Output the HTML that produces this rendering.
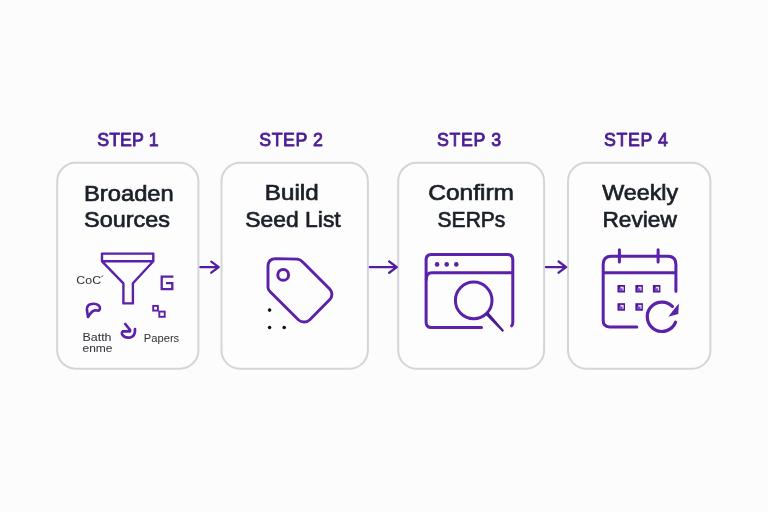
<!DOCTYPE html>
<html>
<head>
<meta charset="utf-8">
<title>Steps</title>
<style>
html,body{margin:0;padding:0;background:#fcfcfc;}
body{width:768px;height:512px;overflow:hidden;font-family:"Liberation Sans",sans-serif;}
svg{display:block;will-change:transform;}
.step{font-family:"Liberation Sans",sans-serif;font-weight:normal;font-size:17.8px;fill:#4c1d95;stroke:#4c1d95;stroke-width:0.85px;stroke-linejoin:round;}
.title{font-family:"Liberation Sans",sans-serif;font-size:22.5px;fill:#1b2029;stroke:#1b2029;stroke-width:0.7px;}
.small{font-family:"Liberation Sans",sans-serif;font-size:11.5px;fill:#2f2f35;}
.card{fill:#fdfdfd;stroke:#d4d5db;stroke-width:2;}
.ico{fill:none;stroke:#5b21a8;stroke-width:2.4;stroke-linecap:round;stroke-linejoin:round;}
.arrow{fill:none;stroke:#521e9e;stroke-width:2.3;stroke-linecap:round;stroke-linejoin:round;}
</style>
</head>
<body>
<svg width="768" height="512" viewBox="0 0 768 512">
<rect x="0" y="0" width="768" height="512" fill="#fcfcfc"/>

<!-- cards -->
<g id="cards">
<rect class="card" x="57.2" y="162.8" width="141.2" height="205.9" rx="18.5" ry="18.5"/>
<rect class="card" x="221.5" y="162.8" width="146.4" height="206" rx="18.5" ry="18.5"/>
<rect class="card" x="398.2" y="162.8" width="145.9" height="206" rx="18.5" ry="18.5"/>
<rect class="card" x="568" y="162.8" width="142.4" height="206" rx="18.5" ry="18.5"/>
</g>

<!-- step labels -->
<g id="steps">
<text class="step" x="97.2" y="146" textLength="61.4" lengthAdjust="spacing">STEP 1</text>
<text class="step" x="259.3" y="146" textLength="63.7" lengthAdjust="spacing">STEP 2</text>
<text class="step" x="437" y="146" textLength="64.1" lengthAdjust="spacing">STEP 3</text>
<text class="step" x="603.9" y="146" textLength="64.1" lengthAdjust="spacing">STEP 4</text>
</g>

<!-- titles -->
<g id="titles">
<text class="title" x="84" y="200.5" textLength="89.8" lengthAdjust="spacingAndGlyphs">Broaden</text>
<text class="title" x="84.1" y="227.1" textLength="86" lengthAdjust="spacingAndGlyphs">Sources</text>
<text class="title" x="264.8" y="200.4" textLength="53.8" lengthAdjust="spacingAndGlyphs">Build</text>
<text class="title" x="245.3" y="227.1" textLength="95.4" lengthAdjust="spacingAndGlyphs">Seed List</text>
<text class="title" x="428.3" y="200.4" textLength="85.6" lengthAdjust="spacingAndGlyphs">Confirm</text>
<text class="title" x="437.6" y="227.1" textLength="67.8" lengthAdjust="spacingAndGlyphs">SERPs</text>
<text class="title" x="602.2" y="200.4" textLength="76" lengthAdjust="spacingAndGlyphs">Weekly</text>
<text class="title" x="602.4" y="227.1" textLength="74.4" lengthAdjust="spacingAndGlyphs">Review</text>
</g>

<!-- arrows -->
<g id="arrows">
<path class="arrow" d="M200.4 267.2H218.4M211.3 261.7L218.7 267.2L211.3 272.7"/>
<path class="arrow" d="M369.8 267.1H396.6M389.2 261.5L396.8 267.1L389.2 272.7"/>
<path class="arrow" d="M545.9 267.1H565.8M558.6 261.5L566.1 267.1L558.6 272.7"/>
</g>

<g id="icon1">
<path class="ico" style="stroke-width:2.4;stroke-linejoin:round" d="M102 253.6H153.3V261.3L132.9 283.3V303.4H123.4V283.3L102 261.3ZM102 261.3H153.3"/>
<path class="ico" style="stroke-width:2.3;stroke-linejoin:miter;stroke-linecap:butt" d="M173.4 276.6H161.7V289.2H172.3V283.2H166"/>
<path class="ico" style="stroke-width:2.6" d="M88 317L86.9 309.7C86.9 306.5 88.2 304.8 90.5 304.2C93 303.5 96.5 303.8 98.7 305.4C100.3 306.8 100.4 309.3 98.9 310.6C97.5 310.9 96 310.3 94.6 310.4C92.4 310.8 90 313.8 88 317Z"/>
<path class="ico" style="stroke-width:2.7" d="M125.2 324L130 329.8V331.3H123C121.6 332 121.6 334 122.6 335.2C124 337 126 337.7 128 337.7C131.5 337.7 134 336 134.7 333C135 331.8 135 330.5 135 329.2"/>
<rect class="ico" style="stroke-width:1.9;stroke-linejoin:miter" x="153.2" y="305.9" width="4.7" height="4.7"/>
<rect class="ico" style="stroke-width:1.9;stroke-linejoin:miter" x="159.3" y="311.6" width="5.4" height="5.2"/>
<text class="small" x="76.3" y="284.2" textLength="24.8" lengthAdjust="spacingAndGlyphs">CoC</text>
<path d="M101.4 276.8l1.8-1.3" stroke="#333338" stroke-width="0.9" fill="none"/>
<text class="small" x="82.5" y="340.8" textLength="29" lengthAdjust="spacingAndGlyphs">Batth</text>
<text class="small" x="82.5" y="352" textLength="30" lengthAdjust="spacingAndGlyphs">enme</text>
<text class="small" x="143.8" y="341.8" textLength="35.4" lengthAdjust="spacingAndGlyphs">Papers</text>
</g>
<g id="icon2">
<path class="ico" style="stroke-width:2.9" d="M268 266.6C268 261.5 270.8 258.6 275.8 258.6L297.3 259.1C300 259.2 301.5 260.6 303.2 262.5L329.7 289C332.6 292 332.6 296.5 329.8 299.6L309.8 319.7C306.5 322.8 301.8 322.8 298.6 320L270.2 291.8C268.6 290.3 268 289.2 268 287.4Z"/>
<circle class="ico" style="stroke-width:3" cx="283.2" cy="274.9" r="5.4"/>
<circle cx="269.6" cy="310.1" r="1.8" fill="#111"/>
<circle cx="269.6" cy="327.5" r="1.8" fill="#111"/>
<circle cx="284.2" cy="327.5" r="1.8" fill="#111"/>
</g>
<g id="icon3">
<path class="ico" style="stroke-width:3" d="M481.5 327.5H431.5C428 327.5 426.1 325.6 426.1 322.2V260C426.1 256.4 428 254.4 431.5 254.4H507.4C510.9 254.4 512.8 256.4 512.8 260V322.3C512.8 324.3 512.5 325.2 511.7 325.8"/>
<path class="ico" style="stroke-width:3" d="M426.3 279.5C426.3 275 428.3 272.8 431.8 272.8H512.6"/>
<circle cx="437.1" cy="264.4" r="2.3" fill="#5b21a8"/>
<circle cx="446.7" cy="264.4" r="2.3" fill="#5b21a8"/>
<circle cx="456.3" cy="264.4" r="2.3" fill="#5b21a8"/>
<circle class="ico" style="stroke-width:3" cx="473.7" cy="300.4" r="18.3"/>
<path d="M485.4 314.4L488.1 311.9L504.1 330.4L502.5 331.9Z" fill="#46208a"/>
</g>
<g id="icon4">
<path class="ico" style="stroke-width:3" d="M636.8 326.9H609.5C605.4 326.9 603.2 324.7 603.2 320.6V264.3C603.2 259 606 256.3 611.2 256.3H667.9C673.1 256.3 675.9 259 675.9 264.3V291.3"/>
<path class="ico" style="stroke-width:3;stroke-linecap:butt" d="M603.2 272.7H675.9"/>
<path class="ico" style="stroke-width:3" d="M619.4 249.7V262.1M658.1 249.7V262.1"/>
<g id="squares">
<rect x="617.5" y="285" width="7.5" height="7.5" fill="#48198f"/><rect x="620.3" y="286.7" width="3.4" height="3.9" fill="#ecd8f8"/><rect x="619.0" y="288.3" width="3.5" height="2.9" fill="#7a48d4"/>
<rect x="635.4" y="285" width="7.5" height="7.5" fill="#48198f"/><rect x="638.2" y="286.7" width="3.4" height="3.9" fill="#ecd8f8"/><rect x="636.9" y="288.3" width="3.5" height="2.9" fill="#7a48d4"/>
<rect x="652.9" y="285" width="7.5" height="7.5" fill="#48198f"/><rect x="655.7" y="286.7" width="3.4" height="3.9" fill="#ecd8f8"/><rect x="654.4" y="288.3" width="3.5" height="2.9" fill="#7a48d4"/>
<rect x="617.5" y="303.2" width="7.5" height="7.5" fill="#48198f"/><rect x="620.3" y="304.9" width="3.4" height="3.9" fill="#ecd8f8"/><rect x="619.0" y="306.5" width="3.5" height="2.9" fill="#7a48d4"/>
<rect x="635.4" y="303.2" width="7.5" height="7.5" fill="#48198f"/><rect x="638.2" y="304.9" width="3.4" height="3.9" fill="#ecd8f8"/><rect x="636.9" y="306.5" width="3.5" height="2.9" fill="#7a48d4"/>
</g>
<path class="ico" style="stroke-width:3.2" d="M675.6 322.2A14.7 14.7 0 1 1 672.4 306.4"/>
<path d="M678.9 303.4L678.3 314L668.4 316.8L673.2 310.2Z" fill="#5b21a8"/>
</g>
</svg>
</body>
</html>
